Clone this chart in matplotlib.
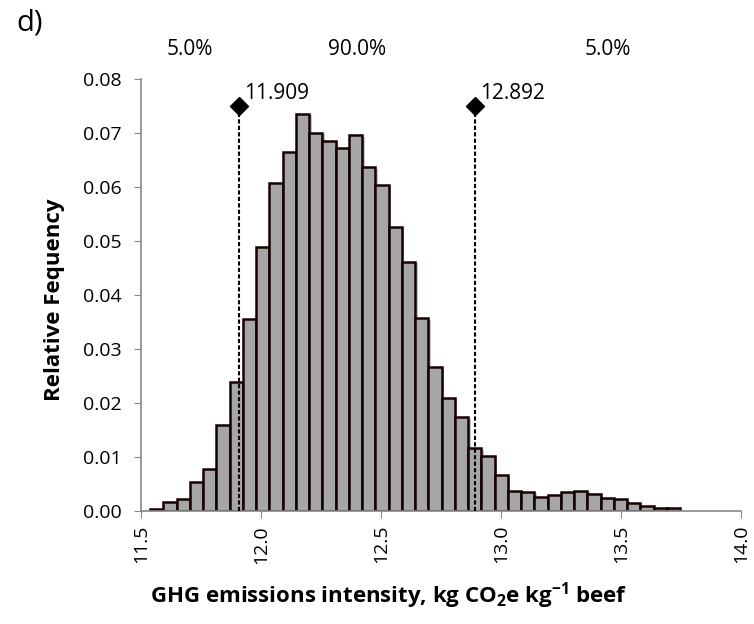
import matplotlib
matplotlib.use("Agg")
import matplotlib.pyplot as plt
import matplotlib.patheffects as pe
import numpy as np

plt.rcParams['font.family'] = ['Open Sans', 'DejaVu Sans']
plt.rcParams['mathtext.fontset'] = 'custom'
plt.rcParams['mathtext.bf'] = 'Open Sans:bold'
plt.rcParams['mathtext.rm'] = 'Open Sans'

# relative frequency of each histogram bin
bin_start = 11.5375
bin_width = 0.0552
rel_freq = [0.0004, 0.0017, 0.0022, 0.0053, 0.0078, 0.0159, 0.0240, 0.0356,
            0.0489, 0.0607, 0.0666, 0.0736, 0.0701, 0.0686, 0.0672, 0.0697,
            0.0637, 0.0604, 0.0527, 0.0462, 0.0357, 0.0267, 0.0210, 0.0174,
            0.0116, 0.0102, 0.0066, 0.0037, 0.0036, 0.0026, 0.0030, 0.0036,
            0.0038, 0.0031, 0.0025, 0.0022, 0.0015, 0.0009, 0.0005, 0.0005]

# 5th / 95th percentile markers
pct_lo, pct_hi = 11.909, 12.892
marker_y = 0.075
band_labels = ["5.0%", "90.0%", "5.0%"]

xticks = [11.5, 12.0, 12.5, 13.0, 13.5, 14.0]
yticks = [0.00, 0.01, 0.02, 0.03, 0.04, 0.05, 0.06, 0.07, 0.08]

fig = plt.figure(figsize=(7.54, 6.24), dpi=100)
ax = fig.add_axes([0.187, 0.181, 0.796, 0.692])

lefts = bin_start + bin_width * np.arange(len(rel_freq))
ax.bar(lefts, rel_freq, width=bin_width, align='edge', color='#a6a6a6',
       edgecolor='#160000', linewidth=1.8, zorder=2,
       path_effects=[pe.SimplePatchShadow(offset=(1.8, -1.2),
                                          shadow_rgbFace='#c4c4c4', alpha=1.0),
                     pe.Normal()])

for v in (pct_lo, pct_hi):
    ax.plot([v, v], [0, marker_y], color='black', lw=1.5,
            dashes=(2, 1.1), zorder=3)
    ax.plot([v], [marker_y], marker='D', ms=9, color='black', zorder=4)
    ax.annotate("{:.3f}".format(v), (v, marker_y), xytext=(3.5, 5),
                textcoords='offset points', ha='left', va='baseline',
                fontsize=15)

ax.set_xlim(xticks[0], xticks[-1])
ax.set_ylim(yticks[0], yticks[-1])
ax.set_xticks(xticks)
ax.set_xticklabels(["{:.1f}".format(t) for t in xticks], rotation=90)
ax.set_yticks(yticks)
ax.set_yticklabels(["{:.2f}".format(t) for t in yticks])
ax.tick_params(axis='both', direction='out', length=5, color='#868686',
               labelsize=14)
ax.tick_params(axis='y', pad=9)
ax.tick_params(axis='x', pad=5)

for side in ('top', 'right'):
    ax.spines[side].set_visible(False)
for side in ('left', 'bottom'):
    ax.spines[side].set_color('#868686')
    ax.spines[side].set_linewidth(1.2)

ax.set_ylabel("Relative Fequency", fontsize=16, fontweight='bold')
ax.yaxis.set_label_coords(-0.127, 0.49)
ax.set_xlabel(r"GHG emissions intensity, kg CO$_\mathbf{2}$e kg$^\mathbf{-1}$ beef",
              fontsize=16, fontweight='bold')
ax.xaxis.set_label_coords(0.413, -0.16)

# percentile band labels above the plot
bounds = [xticks[0], pct_lo, pct_hi, xticks[-1]]
for i, lab in enumerate(band_labels):
    xc = (bounds[i] + bounds[i + 1]) / 2
    ax.text(xc, 1.07, lab, transform=ax.get_xaxis_transform(),
            ha='center', va='center', fontsize=15)

fig.text(0.022, 0.963, "d)", fontsize=21, ha='left', va='center')

fig.savefig("out.png", dpi=100)
